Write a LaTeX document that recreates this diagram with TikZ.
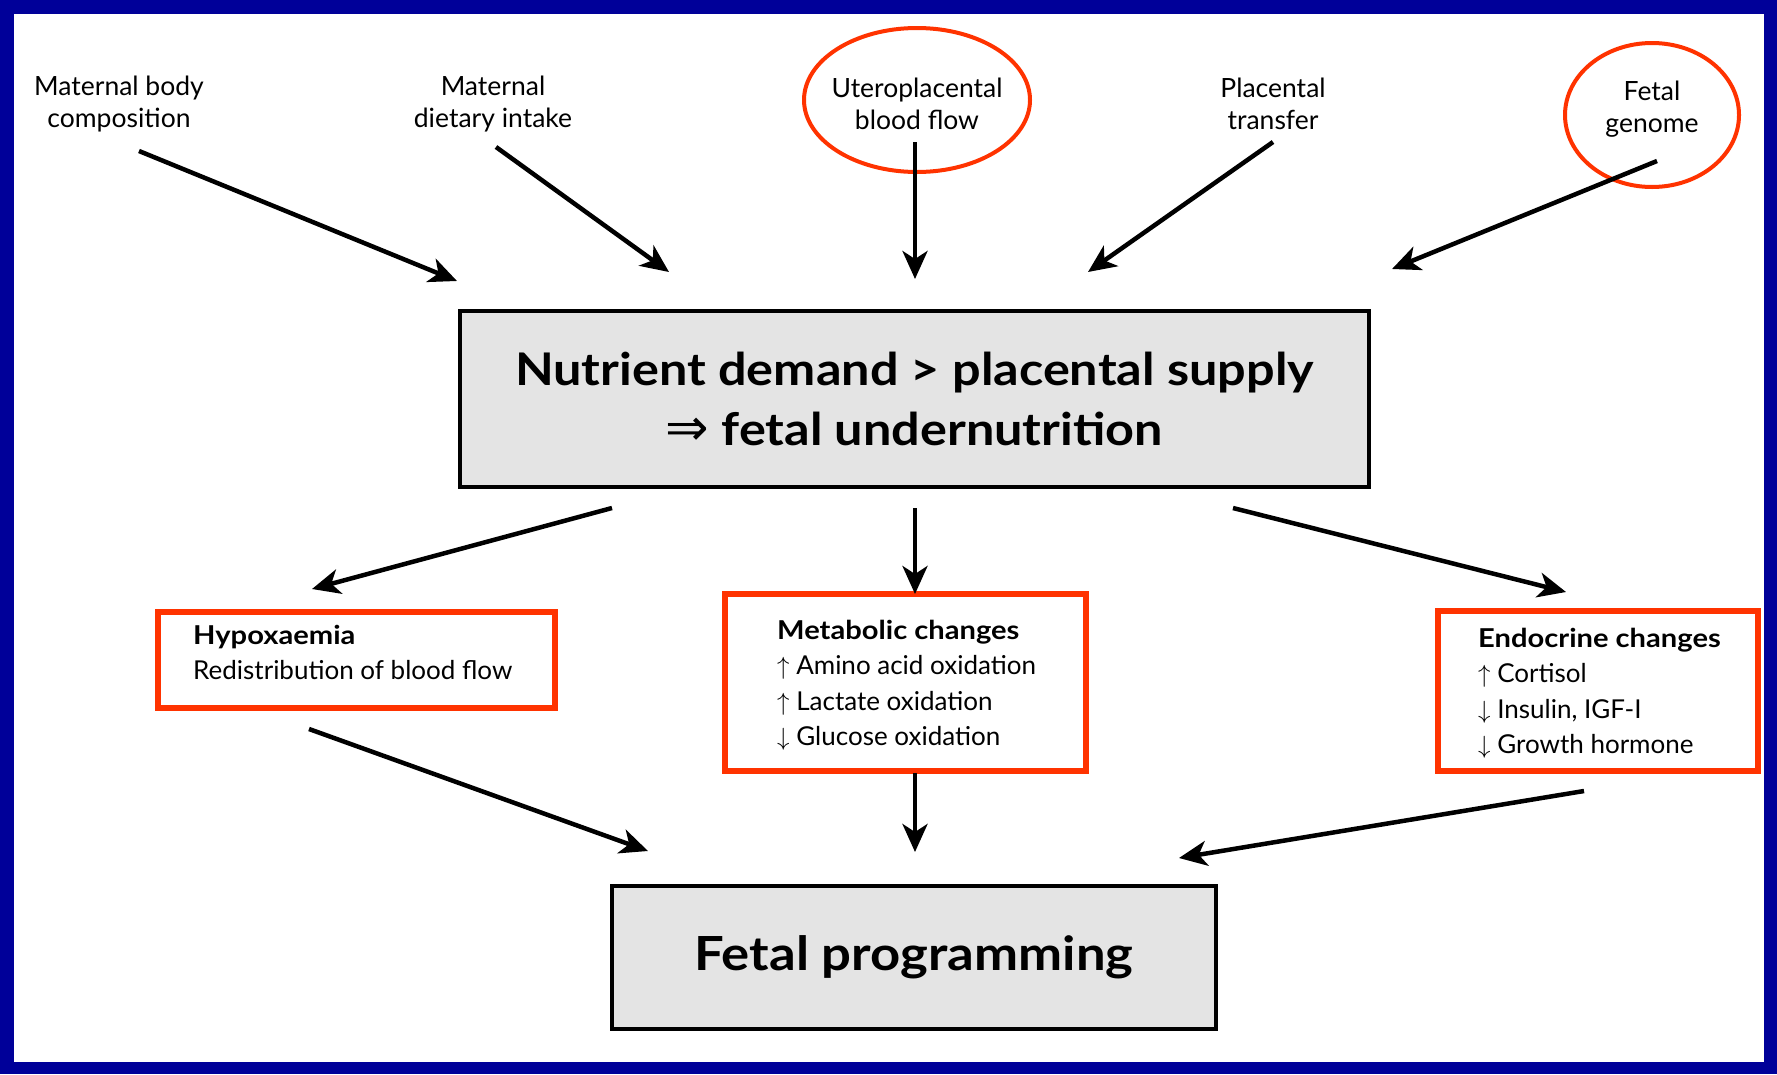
\documentclass[tikz,border=0pt]{standalone}
\usepackage{fontspec}
\setmainfont{Lato}[BoldFeatures={FakeStretch=1.12}]
\newfontfamily\symfont{DejaVu Sans}
\usetikzlibrary{arrows.meta,shapes.geometric}
\definecolor{framebl}{RGB}{0,0,153}
\definecolor{hired}{RGB}{255,51,0}
\definecolor{boxgray}{RGB}{228,228,228}
\begin{document}
\begin{tikzpicture}[x=1pt,y=-1pt,
  toplabel/.style={align=center,font=\fontsize{26.5}{32}\selectfont,inner sep=0pt},
  redoval/.style={ellipse,draw=hired,line width=4pt,inner sep=0pt},
  graybox/.style={rectangle,draw=black,fill=boxgray,line width=4.5pt,align=center},
  redbox/.style={rectangle,draw=hired,line width=6.5pt,fill=white,inner sep=0pt},
  boxtext/.style={align=left,anchor=west,inner sep=0pt,font=\fontsize{26}{35.5}\selectfont},
  arr/.style={line width=4.5pt,-{Stealth[length=28pt,width=25pt,inset=8pt]}}]
\useasboundingbox (0,0) rectangle (1777,1074);
\fill[framebl] (0,0) rectangle (1777,1074);
\fill[white] (14,14) rectangle (1764,1062);

% top factors
\node[toplabel] (mbc) at (119,104) {Maternal body\\composition};
\node[toplabel] (mdi) at (493,104) {Maternal\\dietary intake};
\node[redoval,minimum width=226pt,minimum height=144pt] (ubf) at (917,100) {};
\node[toplabel] (ubft) at (917,104) {Uteroplacental\\blood flow};
\node[toplabel] (pt) at (1273,104) {Placental\\transfer};
\node[redoval,minimum width=174pt,minimum height=144pt] (fg) at (1652,115) {};
\node[toplabel] (fgt) at (1652,109) {Fetal\\genome};

% main box
\node[graybox,minimum width=909pt,minimum height=176pt,
  font=\bfseries\fontsize{45}{60}\selectfont] (nd) at (914.5,399)
  {Nutrient demand > placental supply\\{\symfont\mdseries\fontsize{52}{60}\selectfont ⇒} fetal undernutrition};

% middle boxes
\node[redbox,minimum width=397pt,minimum height=96pt] (hyp) at (356.5,660) {};
\node[boxtext] (hypt) at (193,652.5)
  {\textbf{Hypoxaemia}\\Redistribution of blood flow};
\node[redbox,minimum width=361pt,minimum height=177pt] (met) at (905.5,682.5) {};
\node[boxtext] (mett) at (777,685)
  {\textbf{Metabolic changes}\\$\uparrow$ Amino acid oxidation\\$\uparrow$ Lactate oxidation\\$\downarrow$ Glucose oxidation};
\node[redbox,minimum width=320pt,minimum height=160pt] (endo) at (1598,691) {};
\node[boxtext] (endot) at (1478,693)
  {\textbf{Endocrine changes}\\$\uparrow$ Cortisol\\$\downarrow$ Insulin, IGF-I\\$\downarrow$ Growth hormone};

% bottom box
\node[graybox,minimum width=604pt,minimum height=143pt,
  font=\bfseries\fontsize{47}{52}\selectfont] (fp) at (914,957.5) {Fetal programming};

% arrow end points
\coordinate (a1s) at (139,151);  \coordinate (a1e) at (457,281);
\coordinate (a2s) at (496,147);  \coordinate (a2e) at (669,272);
\coordinate (a3s) at (915,142);  \coordinate (a3e) at (915,279);
\coordinate (a4s) at (1273,142); \coordinate (a4e) at (1088,272);
\coordinate (a5s) at (1657,161); \coordinate (a5e) at (1392,269);
\coordinate (b1s) at (612,508);  \coordinate (b1e) at (312,589);
\coordinate (b2s) at (915,508);  \coordinate (b2e) at (915,594);
\coordinate (b3s) at (1233,508); \coordinate (b3e) at (1566,592);
\coordinate (c1s) at (309,729);  \coordinate (c1e) at (648,851);
\coordinate (c2s) at (915,773);  \coordinate (c2e) at (915,852);
\coordinate (c3s) at (1584,791); \coordinate (c3e) at (1179,858);

\draw[arr] (a1s) -- (a1e);
\draw[arr] (a2s) -- (a2e);
\draw[arr] (a3s) -- (a3e);
\draw[arr] (a4s) -- (a4e);
\draw[arr] (a5s) -- (a5e);
\draw[arr] (b1s) -- (b1e);
\draw[arr] (b2s) -- (b2e);
\draw[arr] (b3s) -- (b3e);
\draw[arr] (c1s) -- (c1e);
\draw[arr] (c2s) -- (c2e);
\draw[arr] (c3s) -- (c3e);
\end{tikzpicture}
\end{document}
